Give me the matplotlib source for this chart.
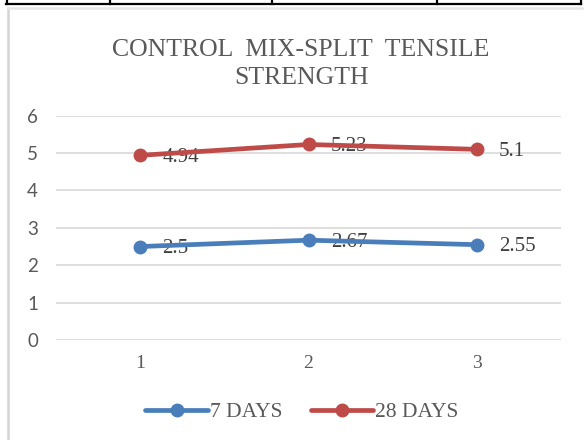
import matplotlib
matplotlib.use("Agg")
import matplotlib.pyplot as plt
from matplotlib.lines import Line2D

plt.rcParams.update({"font.family": "Liberation Serif"})

title = "CONTROL  MIX-SPLIT  TENSILE\nSTRENGTH"
samples = [1, 2, 3]
days_7 = [2.5, 2.67, 2.55]
days_28 = [4.94, 5.23, 5.1]
series = [("7 DAYS", days_7, "#4a7ebb"), ("28 DAYS", days_28, "#be4b48")]
y_ticks = [0, 1, 2, 3, 4, 5, 6]

W, H = 586, 440
fig = plt.figure(figsize=(W / 100, H / 100), dpi=100)


def fx(px):
    return px / W


def fy(py):
    return 1 - py / H


# table lines above the chart
fig.add_artist(Line2D([fx(6), fx(581)], [fy(4.5), fy(4.5)], color="black", lw=1.6))
for xv in [6.5, 109.5, 271.5, 437, 580.5]:
    fig.add_artist(Line2D([fx(xv), fx(xv)], [fy(0), fy(4.5)], color="black", lw=1.6))
# chart frame
fig.add_artist(Line2D([fx(7.5), fx(7.5)], [fy(8), fy(440)], color="#d4d4d4", lw=1.8))
fig.add_artist(Line2D([fx(7.5), fx(582)], [fy(8), fy(8)], color="#e6e6e6", lw=1.8))

ax = fig.add_axes([fx(56), 100 / H, 505 / W, 224.3 / H])

for name, vals, col in series:
    ax.plot(samples, vals, color=col, lw=3.4, marker="o", ms=9,
            solid_capstyle="round", label=name, zorder=3)
    for x, v in zip(samples, vals):
        ax.annotate(f"{v:g}", (x, v), xytext=(16, -1.5), textcoords="offset points",
                    ha="left", va="center", fontsize=15, color="#404040", zorder=2)

ax.set_xlim(0.5, 3.5)
ax.set_ylim(0, 6)
ax.set_yticks(y_ticks)
ax.set_xticks(samples)
ax.grid(axis="y", color="#d9d9d9", lw=1.2)
ax.set_axisbelow(True)
for s in ax.spines.values():
    s.set_visible(False)
ax.tick_params(length=0, colors="#595959")
ax.tick_params(axis="y", pad=13, labelsize=13.5)
ax.tick_params(axis="x", pad=11, labelsize=14)
for lab in ax.get_yticklabels():
    lab.set_family("Lato")

fig.text(fx(301), fy(64), title, ha="center", va="center", fontsize=18.5,
         color="#595959", linespacing=1.4)

fig.legend(loc="center", bbox_to_anchor=(fx(302), fy(412)), ncol=2, frameon=False,
           fontsize=15.5, labelcolor="#595959", handlelength=2.9, handletextpad=0.1,
           columnspacing=1.3, markerscale=1.0)

fig.savefig("out.png", dpi=100)
